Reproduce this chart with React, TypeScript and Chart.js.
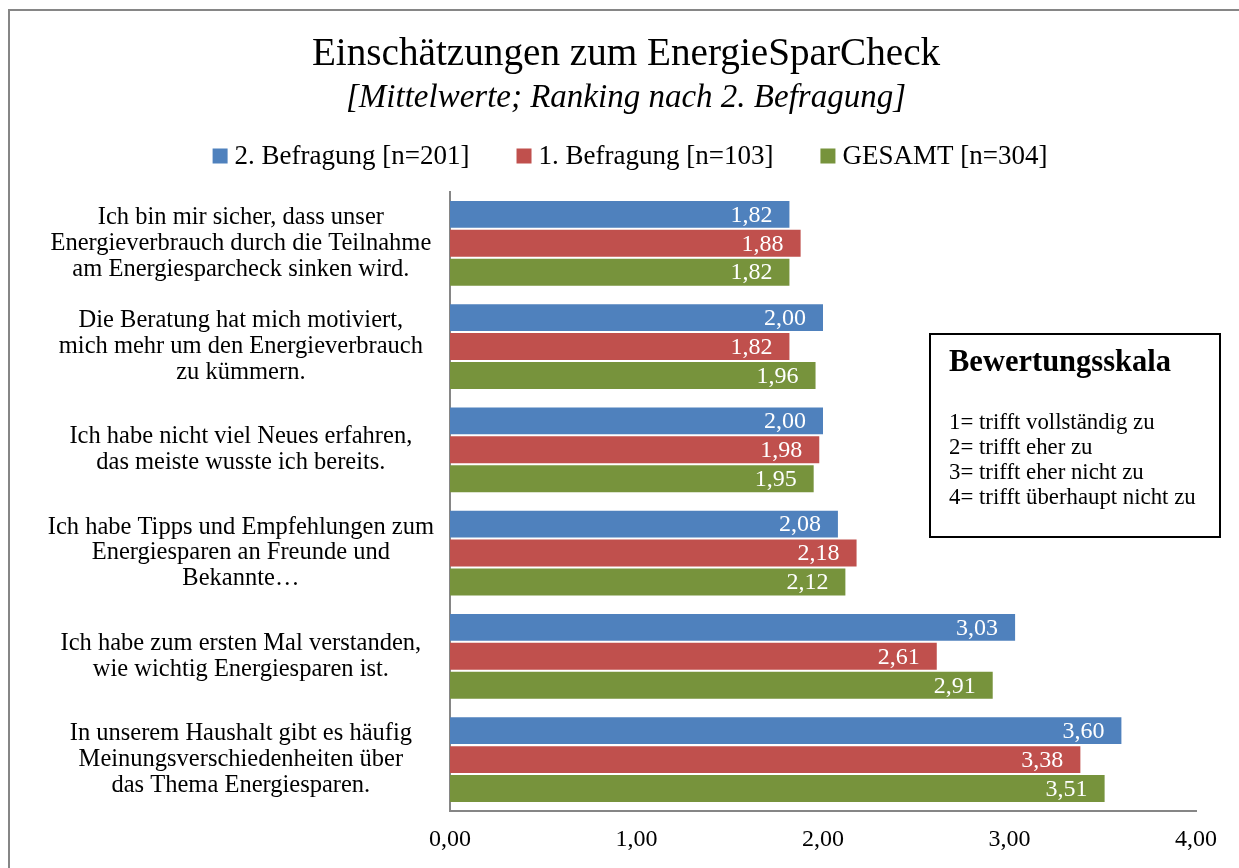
import React, { useEffect, useRef } from 'react';
import { Chart, registerables } from 'chart.js';

Chart.register(...registerables);

const FONT = "'Liberation Serif', 'Times New Roman', serif";

const chartTitle = 'Einschätzungen zum EnergieSparCheck';
const chartSubtitle = '[Mittelwerte; Ranking nach 2. Befragung]';

const categories: string[][] = [
  ['Ich bin mir sicher, dass unser', 'Energieverbrauch durch die Teilnahme', 'am Energiesparcheck sinken wird.'],
  ['Die Beratung hat mich motiviert,', 'mich mehr um den Energieverbrauch', 'zu kümmern.'],
  ['Ich habe nicht viel Neues erfahren,', 'das meiste wusste ich bereits.'],
  ['Ich habe Tipps und Empfehlungen zum', 'Energiesparen an Freunde und', 'Bekannte…'],
  ['Ich habe zum ersten Mal verstanden,', 'wie wichtig Energiesparen ist.'],
  ['In unserem Haushalt gibt es häufig', 'Meinungsverschiedenheiten über', 'das Thema Energiesparen.'],
];

const seriesLabels = ['2. Befragung [n=201]', '1. Befragung [n=103]', 'GESAMT [n=304]'];
const befragung2 = [1.82, 2.0, 2.0, 2.08, 3.03, 3.6];
const befragung1 = [1.88, 1.82, 1.98, 2.18, 2.61, 3.38];
const gesamt = [1.82, 1.96, 1.95, 2.12, 2.91, 3.51];
const seriesColors = ['#4F81BD', '#C0504D', '#77933C'];

const xTicks = ['0,00', '1,00', '2,00', '3,00', '4,00'];

const scaleTitle = 'Bewertungsskala';
const scaleItems = [
  '1= trifft vollständig zu',
  '2= trifft eher zu',
  '3= trifft eher nicht zu',
  '4= trifft überhaupt nicht zu',
];

const fmt = (v: number) => v.toFixed(2).replace('.', ',');

const backgroundPlugin = {
  id: 'bgFrame',
  beforeDraw(chart: any) {
    const { ctx, width, height } = chart;
    ctx.save();
    ctx.fillStyle = '#ffffff';
    ctx.fillRect(0, 0, width, height);
    ctx.strokeStyle = '#868686';
    ctx.lineWidth = 2;
    ctx.strokeRect(9, 10, width + 50, height + 50);
    ctx.restore();
  },
};

// Legend drawn from the chart's datasets (labels + colours)
const legendPlugin = {
  id: 'customLegend',
  afterDraw(chart: any) {
    const { ctx } = chart;
    const box = 15, gapText = 7, gapItem = 47, cy = 156, centerX = 630;
    ctx.save();
    ctx.font = `27px ${FONT}`;
    ctx.textBaseline = 'middle';
    ctx.textAlign = 'left';
    const items = chart.data.datasets.map((ds: any) => ({
      text: ds.label as string,
      color: ds.backgroundColor as string,
      w: box + gapText + ctx.measureText(ds.label).width,
    }));
    const total = items.reduce((s: number, it: any) => s + it.w, 0) + gapItem * (items.length - 1);
    let x = centerX - total / 2;
    items.forEach((it: any) => {
      ctx.fillStyle = it.color;
      ctx.fillRect(x, cy - box / 2, box, box);
      ctx.fillStyle = '#000';
      ctx.fillText(it.text, x + box + gapText, cy + 1);
      x += it.w + gapItem;
    });
    ctx.restore();
  },
};

const valueLabelPlugin = {
  id: 'valueLabels',
  afterDatasetsDraw(chart: any) {
    const { ctx } = chart;
    ctx.save();
    ctx.font = `24px ${FONT}`;
    ctx.fillStyle = '#ffffff';
    ctx.textAlign = 'right';
    ctx.textBaseline = 'middle';
    chart.data.datasets.forEach((ds: any, i: number) => {
      const meta = chart.getDatasetMeta(i);
      meta.data.forEach((bar: any, j: number) => {
        ctx.fillText(fmt(ds.data[j]), bar.x - 17, bar.y + 1);
      });
    });
    ctx.restore();
  },
};

const scaleBoxPlugin = {
  id: 'scaleBox',
  afterDraw(chart: any) {
    const { ctx } = chart;
    const x = 930, y = 334, w = 290, h = 203;
    ctx.save();
    ctx.fillStyle = '#ffffff';
    ctx.fillRect(x, y, w, h);
    ctx.strokeStyle = '#000000';
    ctx.lineWidth = 2;
    ctx.strokeRect(x, y, w, h);
    ctx.fillStyle = '#000000';
    ctx.textAlign = 'left';
    ctx.textBaseline = 'middle';
    ctx.font = `bold 30.5px ${FONT}`;
    ctx.fillText(scaleTitle, x + 19, y + 29);
    ctx.font = `22.8px ${FONT}`;
    scaleItems.forEach((t, i) => {
      ctx.fillText(t, x + 19, y + 89 + i * 25);
    });
    ctx.restore();
  },
};

export default function App() {
  const ref = useRef<HTMLCanvasElement>(null);

  useEffect(() => {
    const canvas = ref.current!;
    const chart = new Chart(canvas, {
      type: 'bar',
      data: {
        labels: categories as any,
        datasets: [
          { label: seriesLabels[0], data: befragung2, backgroundColor: seriesColors[0] },
          { label: seriesLabels[1], data: befragung1, backgroundColor: seriesColors[1] },
          { label: seriesLabels[2], data: gesamt, backgroundColor: seriesColors[2] },
        ],
      },
      options: {
        indexAxis: 'y',
        responsive: false,
        maintainAspectRatio: false,
        animation: false,
        layout: { padding: { left: 28, right: 15, top: 0, bottom: 0 } },
        datasets: { bar: { categoryPercentage: 0.84, barPercentage: 0.93 } },
        plugins: {
          title: {
            display: true,
            text: chartTitle,
            color: '#000',
            font: { family: FONT, size: 39.2, weight: 'normal' },
            padding: { top: 31, bottom: 0 },
          },
          subtitle: {
            display: true,
            text: chartSubtitle,
            color: '#000',
            font: { family: FONT, size: 33, style: 'italic' },
            padding: { top: 0, bottom: 74 },
          },
          legend: { display: false },
          tooltip: { enabled: false },
        },
        scales: {
          x: {
            type: 'linear',
            position: 'bottom',
            min: 0,
            max: 4,
            ticks: {
              stepSize: 1,
              color: '#000',
              font: { family: FONT, size: 24 },
              padding: 14,
              callback: (_v: any, i: number) => xTicks[i] ?? '',
            },
            grid: { display: false, drawTicks: false },
            border: { display: true, color: '#868686', width: 2 },
            afterFit: (s: any) => { s.paddingRight = 43; },
          },
          y: {
            type: 'category',
            ticks: {
              color: '#000',
              font: { family: FONT, size: 24.5, lineHeight: 1.06 },
              crossAlign: 'center',
              padding: 16,
              autoSkip: false,
            },
            grid: { display: false, drawTicks: false },
            border: { display: true, color: '#868686', width: 2 },
            afterFit: (s: any) => { s.width = 422; },
          },
        } as any,
      },
      plugins: [backgroundPlugin, valueLabelPlugin, legendPlugin, scaleBoxPlugin],
    });
    return () => chart.destroy();
  }, []);

  return (
    <div style={{ position: 'fixed', left: 0, top: 0, width: 1239, height: 868, background: '#fff' }}>
      <canvas ref={ref} width={1239} height={868} style={{ display: 'block' }} />
    </div>
  );
}
